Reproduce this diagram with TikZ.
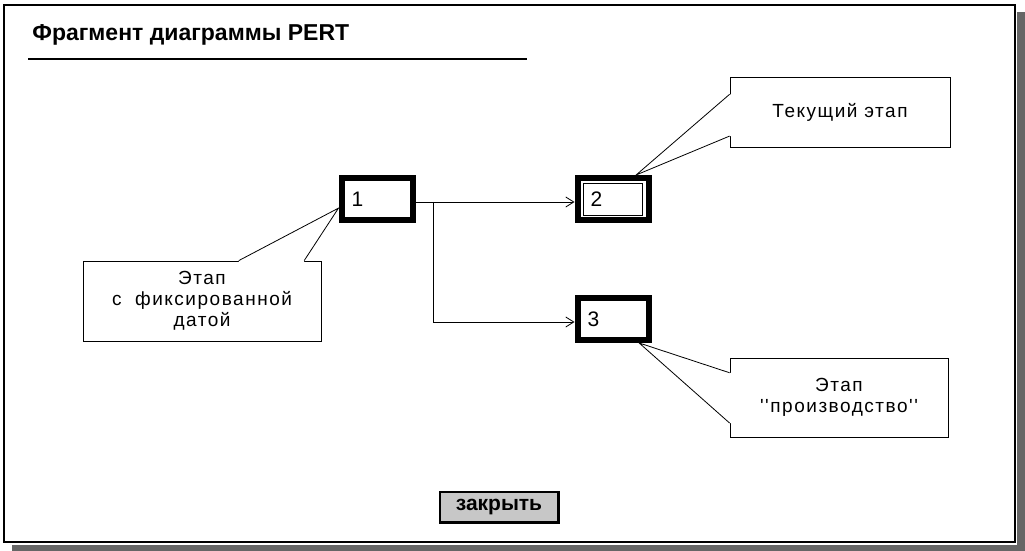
\documentclass[tikz,border=0pt]{standalone}
\usepackage{fontspec}
\setmainfont{Liberation Sans}
\newfontfamily\notefont[LetterSpace=8]{Liberation Sans}
\usetikzlibrary{calc,arrows.meta}

\tikzset{
  stage/.style={draw,line width=3pt,minimum width=35.5pt,minimum height=21pt,
    inner xsep=5pt,text width=25.5pt,align=left,font=\fontsize{10.5}{12}\selectfont},
  note/.style={draw,fill=white,align=center,inner sep=0pt,
    font=\notefont\fontsize{9.5}{10.5}\selectfont},
  flow/.style={-{Straight Barb[length=4pt,width=5pt]},thin},
  shadow/.style={fill=black!60}
}

\begin{document}
\begin{tikzpicture}[x=0.5pt,y=-0.5pt]
\useasboundingbox (0,0) rectangle (1025,551);
\fill[white] (0,0) rectangle (1025,551);

% window frame and its shadow
\fill[shadow] (1017,12) rectangle (1025,551);
\fill[shadow] (12,545) rectangle (1025,551);
\draw[line width=0.6pt] (4,5) rectangle (1015,542);

% heading
\node[anchor=west,inner sep=0pt,font=\bfseries\fontsize{11.5}{13}\selectfont] (head) at (32,35) {Фрагмент диаграммы PERT};
\draw[line width=1pt] (28,59) -- (527,59);

% stages
\node[stage] (n1) at (377,199) {1};
\node[stage,inner xsep=6.5pt,text width=22.5pt] (n2) at (613,199) {2};
\node[stage] (n3) at (613,319) {3};
\draw[thin] ($(n2.north west)+(4.5pt,-4pt)$) rectangle ($(n2.south east)+(-4.5pt,4pt)$);

% links
\coordinate (br) at ($(n1.east)+(9pt,-1.5pt)$);
\draw[flow] ([yshift=-1.5pt]n1.east) -- ([yshift=-1.5pt]n2.west);
\draw[flow] (br) |- ([yshift=-1.5pt]n3.west);

% notes
\node[note,minimum width=119pt,minimum height=40pt] (c1) at (202,301) {Этап\\с\ \ фиксированной\\датой};
\node[note,minimum width=110pt,minimum height=35pt] (c2) at (840,112) {Текущий этап};
\node[note,minimum width=109pt,minimum height=39.5pt] (c3) at (839,397.5) {Этап\\''производство''};

% note pointers
\coordinate (p1a) at ($(c1.north west)!0.654!(c1.north east)$);
\coordinate (p1b) at ($(c1.north west)!0.928!(c1.north east)$);
\coordinate (t1) at ($(n1.south west)!0.31!(n1.north west)$);
\fill[white] (p1a) -- (t1) -- (p1b) -- ($(p1b)+(0,-1pt)$) -- ($(p1a)+(0,-1pt)$) -- cycle;
\draw (p1a) -- (t1) -- (p1b);

\coordinate (p2a) at ($(c2.north west)!0.25!(c2.south west)$);
\coordinate (p2b) at ($(c2.north west)!0.84!(c2.south west)$);
\coordinate (t2) at ($(n2.north west)!0.8!(n2.north east)$);
\fill[white] (p2a) -- (t2) -- (p2b) -- ($(p2b)+(1pt,0)$) -- ($(p2a)+(1pt,0)$) -- cycle;
\draw (p2a) -- (t2) -- (p2b);

\coordinate (p3a) at ($(c3.north west)!0.19!(c3.south west)$);
\coordinate (p3b) at ($(c3.north west)!0.82!(c3.south west)$);
\coordinate (t3) at ($(n3.south west)!0.84!(n3.south east)$);
\fill[white] (p3a) -- (t3) -- (p3b) -- ($(p3b)+(1pt,0)$) -- ($(p3a)+(1pt,0)$) -- cycle;
\draw (p3a) -- (t3) -- (p3b);

% close button
\node[draw,fill=black!22,line width=0.8pt,minimum width=59pt,minimum height=15pt,inner sep=0pt,
  font=\bfseries\fontsize{10.5}{12}\selectfont] (close) at (499,507) {закрыть};
\draw[line width=1.6pt] (close.north east) -- (close.south east) -- (close.south west);
\end{tikzpicture}
\end{document}
